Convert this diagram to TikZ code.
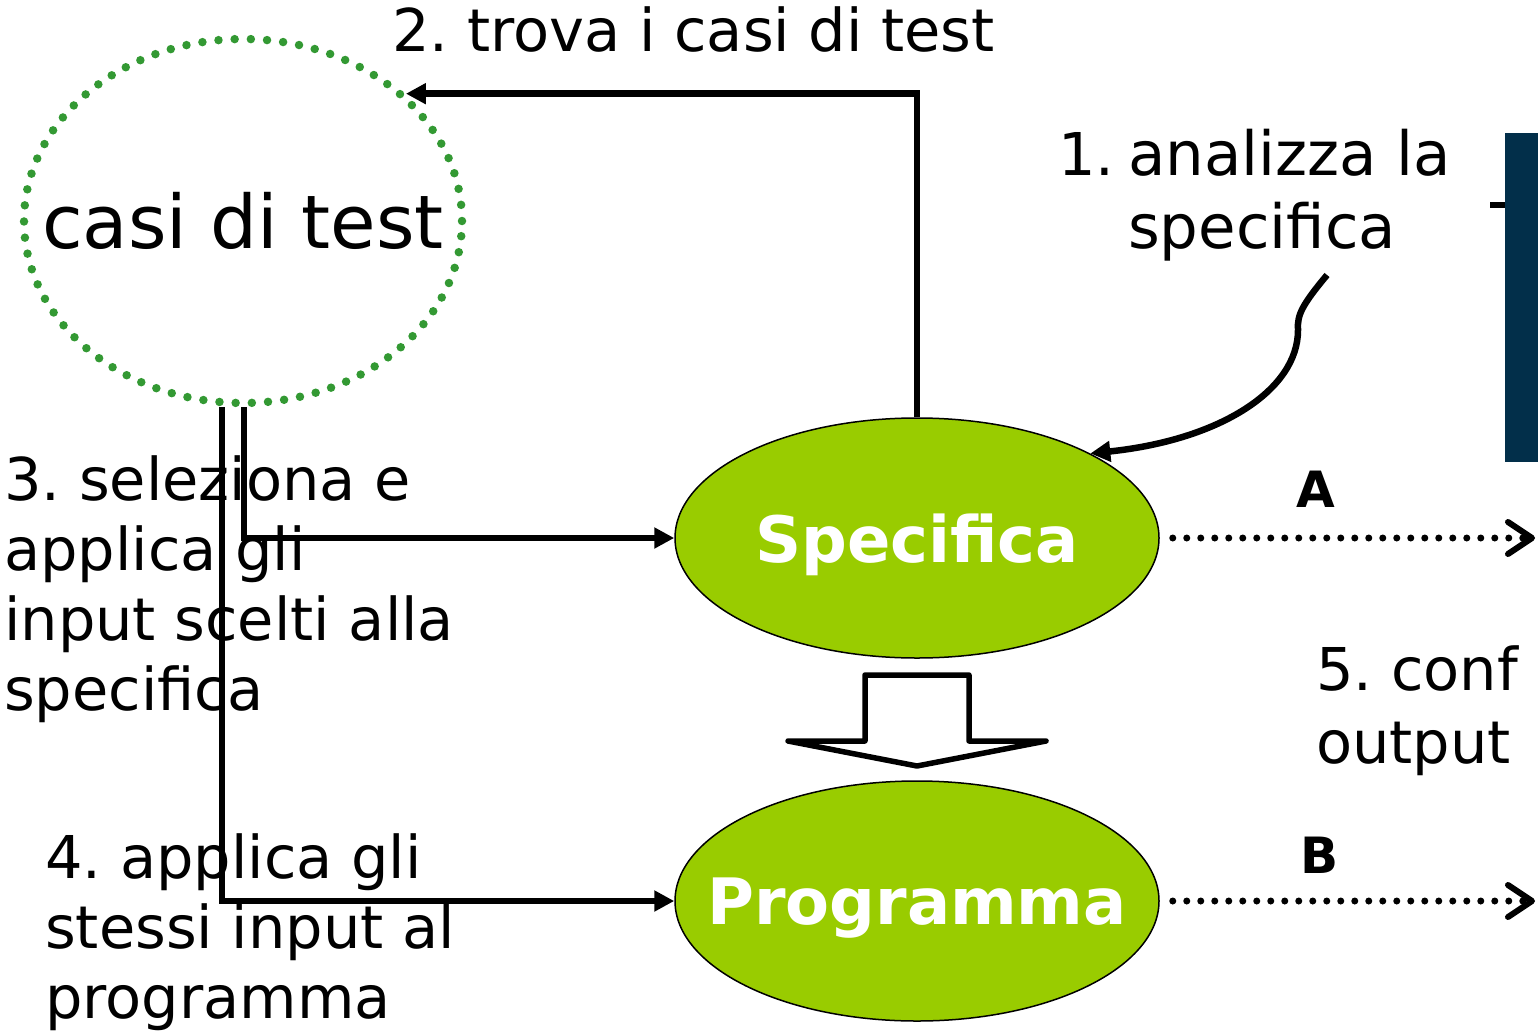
\documentclass[tikz,border=0pt]{standalone}
\usepackage{fontspec}
\setmainfont{DejaVu Sans}
\frenchspacing
\usetikzlibrary{arrows.meta,shapes.geometric,calc}
\definecolor{limeg}{HTML}{99CC00}
\definecolor{dotg}{HTML}{339933}
\definecolor{navyb}{RGB}{2,47,74}
\begin{document}
\frenchspacing
\begin{tikzpicture}[x=1pt,y=-1pt,
  txt/.style={font=\fontsize{59}{70}\selectfont, inner sep=0pt, anchor=base west},
  conn/.style={line width=6.5pt, -{Triangle[length=20pt,width=20pt]}},
  dotarr/.style={line width=7pt, dash pattern=on 0pt off 14pt, line cap=round,
    -{Straight Barb[length=24pt,width=32pt,line width=6pt,round]}},
  ovalbox/.style={ellipse, draw=black, line width=1.5pt, fill=limeg, text=white,
    minimum width=484pt, minimum height=240pt, inner sep=0pt, text depth=0pt,
    font=\bfseries\fontsize{64}{70}\selectfont},
  letter/.style={font=\bfseries\fontsize{50}{60}\selectfont, inner sep=0pt, text depth=0pt}]
\useasboundingbox (0,0) rectangle (1538,1030);

% dark bar on the right
\fill[navyb] (1505,133) rectangle (1538,462);
\draw[line width=6pt] (1490,205) -- (1505,205);

% test cases
\node[ellipse, draw=dotg, line width=8.5pt, dash pattern=on 0pt off 16.2pt, line cap=round,
  minimum width=438pt, minimum height=364pt, inner sep=0pt,
  font=\fontsize{74}{80}\selectfont] (casi) at (243,221) {\makebox[0pt]{casi di test}};

% main ovals
\node[ovalbox] (spec) at (917,538) {\makebox[0pt]{Specifica}};
\node[ovalbox] (prog) at (917,901) {\makebox[0pt]{Programma}};

% hollow block arrow
\draw[line width=5.5pt, line join=round, fill=white]
  (865,741) -- (865,675) -- (969,675) -- (969,741) -- (1046,741) -- (917,766) -- (788,741) -- cycle;

% texts
\node[txt] (l2) at (392,52) {2. trova i casi di test};
\node[txt] (l1n) at (1058,175) {1.};
\node[txt, font=\fontsize{61}{73}\selectfont] (l1) at (1128,175) {\begin{tabular}[t]{@{}l@{}}analizza la\\specifica\end{tabular}};
\node[txt] (l3) at (4,500) {\begin{tabular}[t]{@{}l@{}}3. seleziona e\\applica gli\\input scelti alla\\specifica\end{tabular}};
\node[txt] (l4) at (45,878) {\begin{tabular}[t]{@{}l@{}}4. applica gli\\stessi input al\\programma\end{tabular}};
\node[txt] (l5) at (1316,690) {\begin{tabular}[t]{@{}l@{}}5. conf\\[3pt]output\end{tabular}};
\node[letter] (lA) at (1316,489) {A};
\node[letter] (lB) at (1320,855) {B};

% connectors
\draw[conn] (spec.north) |- (casi.38.6);
\coordinate (c1) at (1327,275);
\draw[conn] (c1) .. controls (1302,305) and (1297,315) .. (1298,330)
  .. controls (1298,390) and (1220,440) .. (spec.26);
\draw[conn] ([xshift=1pt]casi.south) |- (spec.west);
\draw[conn] ([xshift=-21pt]casi.south) |- (prog.west);

\coordinate (aend) at (1535,538);
\coordinate (bend) at (1535,901);
\draw[dotarr] ([xshift=13pt]spec.east) -- (aend);
\draw[dotarr] ([xshift=13pt]prog.east) -- (bend);
\end{tikzpicture}
\end{document}
